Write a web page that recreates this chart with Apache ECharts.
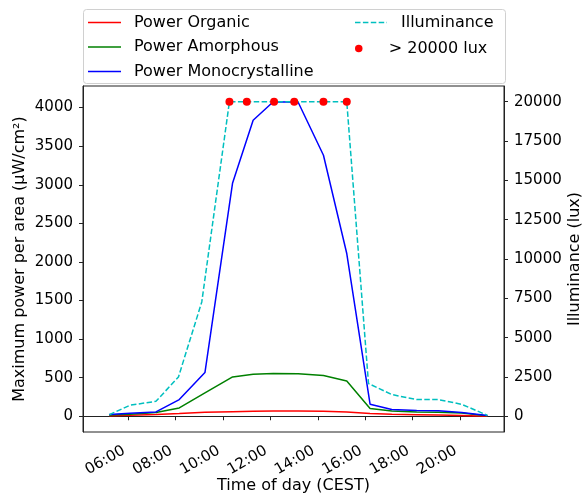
<!DOCTYPE html>
<html>
<head>
<meta charset="utf-8">
<script src="https://cdn.jsdelivr.net/npm/echarts@6/dist/echarts.min.js"></script>
<style>html,body{margin:0;padding:0;background:#fff;}#c{width:583px;height:495px;}</style>
</head>
<body>
<div id="c"></div>
<script>
// ---- data ----
var illumTimes = ['05:12','06:04','07:10','08:07','09:06','10:16','11:00','12:09','13:00','14:14','15:13','16:08','17:07','18:10','19:05','20:04','21:09'];
var illuminance = [100, 700, 950, 2500, 7270, 20000, 20000, 20000, 20000, 20000, 20000, 2080, 1380, 1060, 1060, 760, 60];
var powerTimes = ['05:12','06:04','07:10','08:09','09:14','10:24','11:16','12:07','13:10','14:14','15:13','16:12','17:07','18:10','19:05','20:04','21:09'];
var powerOrganic = [5, 12, 22, 35, 52, 60, 65, 69, 68, 65, 56, 35, 26, 20, 15, 10, 0];
var powerAmorphous = [15, 25, 48, 108, 302, 510, 544, 553, 550, 527, 458, 100, 69, 56, 52, 43, 5];
var powerMono = [22, 40, 56, 216, 566, 3024, 3836, 4076, 4070, 3383, 2109, 156, 87, 75, 70, 50, 10];
var saturationLux = 20000;
var xTickHours = [6, 8, 10, 12, 14, 16, 18, 20];
var leftTicks = [0, 500, 1000, 1500, 2000, 2500, 3000, 3500, 4000];
var rightTicks = [0, 2500, 5000, 7500, 10000, 12500, 15000, 17500, 20000];

function toH(s){ var p = s.split(':'); return +p[0] + (+p[1])/60; }
function pairs(times, vals){ return times.map(function(t,i){ return [toH(t), vals[i]]; }); }
var satPts = [];
illumTimes.forEach(function(t,i){ if (illuminance[i] >= saturationLux) satPts.push([toH(t), saturationLux]); });

var FF = 'DejaVu Sans';
var axisCol = '#222';
var solidIcon = 'path://M0,0H32V1.5H0Z';
var dashIcon = 'path://M0,0h5.5v1.5h-5.5z M7.9,0h5.5v1.5h-5.5z M15.8,0h5.5v1.5h-5.5z M23.7,0h5.5v1.5h-5.5z M31.6,0h0.4v1.5h-0.4z';
var legText = {fontFamily: FF, fontSize: 16, color: '#000'};
function plain(v){ return String(v); }
var chart = echarts.init(document.getElementById('c'), null, {renderer:'canvas'});
chart.setOption({
  animation: false,
  backgroundColor: '#fff',
  textStyle: {fontFamily: FF, color: '#000'},
  graphic: [{
    type: 'rect', z: 0,
    shape: {x: 83.5, y: 9.5, width: 422, height: 74, r: 3},
    style: {fill: 'rgba(255,255,255,0.8)', stroke: '#d0d0d0', lineWidth: 1}
  }],
  grid: {left: 83, right: 79, top: 86, bottom: 63, show: true, borderColor: axisCol, borderWidth: 1,
         backgroundColor: 'transparent', containLabel: false, outerBoundsMode: 'none'},
  legend: [
    {data: [{name: 'Power Organic', icon: solidIcon}, {name: 'Power Amorphous', icon: solidIcon}, {name: 'Power Monocrystalline', icon: solidIcon}],
     orient: 'vertical', left: 88, top: 14.5, padding: 0,
     itemWidth: 33, itemHeight: 14, itemGap: 8.5, textStyle: Object.assign({padding: [0,0,0,8]}, legText)},
    {data: [{name: 'Illuminance', icon: dashIcon}], left: 355, top: 14.5, padding: 0, itemWidth: 32, itemHeight: 14,
     textStyle: Object.assign({padding: [0,0,0,9]}, legText)},
    {data: [{name: '> 20000 lux', icon: 'circle'}], left: 355, top: 40.5, padding: 0, itemWidth: 32, itemHeight: 7.5,
     textStyle: Object.assign({padding: [0,0,0,9]}, legText)}
  ],
  xAxis: {
    type: 'value', min: 4.089, max: 21.85,
    name: 'Time of day (CEST)', nameLocation: 'middle', nameGap: 46, nameMoveOverlap: false,
    nameTextStyle: {fontFamily: FF, fontSize: 16, color: '#000'},
    axisLine: {show: true, lineStyle: {color: axisCol}},
    axisTick: {show: true, length: 4, customValues: xTickHours, lineStyle: {color: axisCol}},
    axisLabel: {customValues: xTickHours, rotate: 30, margin: 15, padding: [0, 5, 0, 0], fontFamily: FF, fontSize: 15, color: '#000',
      formatter: function(v){ var h = Math.round(v); return (h < 10 ? '0' : '') + h + ':00'; }},
    splitLine: {show: false}
  },
  yAxis: [
    {type: 'value', min: -204, max: 4280, position: 'left',
     name: 'Maximum power per area (μW/cm²)', nameLocation: 'middle', nameGap: 55, nameRotate: 90, nameMoveOverlap: false,
     nameTextStyle: {fontFamily: FF, fontSize: 16, color: '#000'},
     axisLine: {show: true, lineStyle: {color: axisCol}},
     axisTick: {show: true, length: 4, customValues: leftTicks, lineStyle: {color: axisCol}},
     axisLabel: {customValues: leftTicks, margin: 10, fontFamily: FF, fontSize: 15, color: '#000', formatter: plain},
     splitLine: {show: false}},
    {type: 'value', min: -1000, max: 21000, position: 'right',
     name: 'Illuminance (lux)', nameLocation: 'middle', nameGap: 63, nameRotate: 90, nameMoveOverlap: false,
     nameTextStyle: {fontFamily: FF, fontSize: 16, color: '#000'},
     axisLine: {show: true, lineStyle: {color: axisCol}},
     axisTick: {show: true, length: 4, customValues: rightTicks, lineStyle: {color: axisCol}},
     axisLabel: {customValues: rightTicks, margin: 10, fontFamily: FF, fontSize: 15, color: '#000', formatter: plain},
     splitLine: {show: false}}
  ],
  series: [
    {name: 'Power Organic', type: 'line', yAxisIndex: 0, data: pairs(powerTimes, powerOrganic),
     symbol: 'none', color: '#ff0000', lineStyle: {color: '#ff0000', width: 1.5}, z: 3},
    {name: 'Power Amorphous', type: 'line', yAxisIndex: 0, data: pairs(powerTimes, powerAmorphous),
     symbol: 'none', color: '#008000', lineStyle: {color: '#008000', width: 1.5}, z: 3},
    {name: 'Power Monocrystalline', type: 'line', yAxisIndex: 0, data: pairs(powerTimes, powerMono),
     symbol: 'none', color: '#0000ff', lineStyle: {color: '#0000ff', width: 1.5}, z: 3},
    {name: 'Illuminance', type: 'line', yAxisIndex: 1, data: pairs(illumTimes, illuminance),
     symbol: 'none', color: '#00bfbf', lineStyle: {color: '#00bfbf', width: 1.5, type: [5.5, 2.4]}, z: 4},
    {name: '> 20000 lux', type: 'scatter', yAxisIndex: 1, data: satPts,
     symbol: 'circle', symbolSize: 8, color: '#ff0000', itemStyle: {color: '#ff0000', opacity: 1}, z: 5}
  ]
});
</script>
</body>
</html>
